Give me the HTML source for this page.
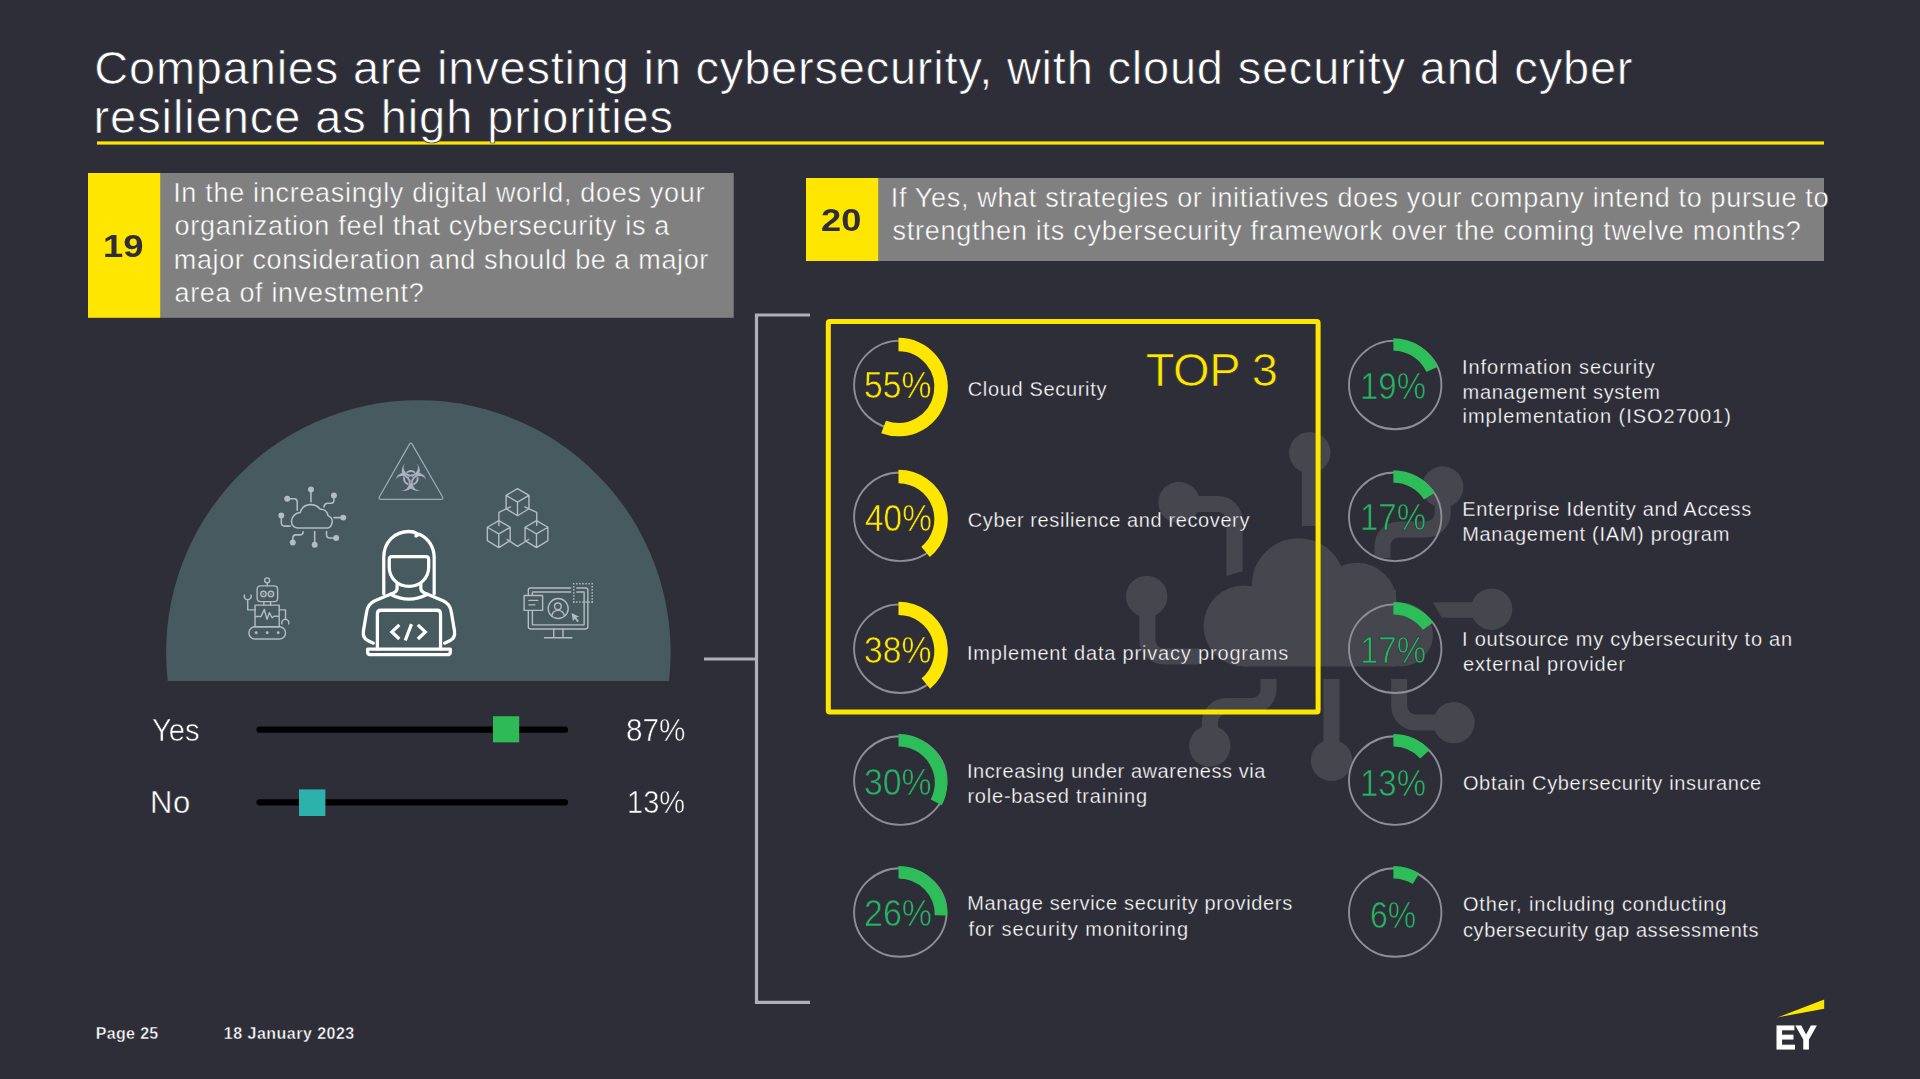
<!DOCTYPE html>
<html lang="en"><head><meta charset="utf-8">
<title>Companies are investing in cybersecurity</title>
<style>html,body{margin:0;padding:0}body{width:1920px;height:1079px;overflow:hidden;position:relative;background:#2e2e38;font-family:'Liberation Sans', sans-serif}.t{position:absolute;white-space:nowrap;line-height:1;transform-origin:0 0}svg{position:absolute;left:0;top:0}</style></head><body>
<svg width="1920" height="1079" viewBox="0 0 1920 1079">
<rect x="97" y="141.4" width="1727" height="3.2" fill="#ffe600"/>
<rect x="160" y="173" width="573.7" height="144.8" fill="#808080"/>
<rect x="88" y="173" width="72.2" height="144.8" fill="#ffe600"/>
<rect x="878" y="178" width="946" height="83" fill="#808080"/>
<rect x="806" y="178" width="72.2" height="83" fill="#ffe600"/>
<path d="M810,315 H756.5 V1002.3 H810 M756.5,659 H704" fill="none" stroke="#b0b0bc" stroke-width="3.2"/>
<path d="M259.5,729.7 H565 M259.5,802.3 H565" stroke="#000" stroke-width="6.2" stroke-linecap="round"/>
<rect x="493" y="716.2" width="26.2" height="26.2" fill="#2dba57"/>
<rect x="299" y="789.4" width="26.4" height="26.6" fill="#2db1ab"/>
<path d="M1777.1,1017.5 L1824.2,999.6 V1008.8 Z" fill="#ffe600"/>
<g fill="#46464e" stroke="none">
<circle cx="1244" cy="626" r="40.5"/><circle cx="1298.5" cy="585" r="46.7"/><circle cx="1357" cy="602.5" r="39.7"/><circle cx="1401" cy="634.5" r="32"/><rect x="1244" y="590" width="152" height="76.5"/>
<circle cx="1309.8" cy="452.6" r="20.7"/>
<circle cx="1179" cy="502.5" r="20.7"/>
<circle cx="1442.7" cy="487" r="20.7"/>
<circle cx="1146.7" cy="596.4" r="20.7"/>
<circle cx="1491.6" cy="609.2" r="20.7"/>
<circle cx="1209.8" cy="746" r="20.7"/>
<circle cx="1331.5" cy="760.3" r="20.7"/>
<circle cx="1453.9" cy="722.6" r="20.7"/>
</g>
<g fill="none" stroke="#46464e" stroke-width="16">
<path d="M1309.8,452.6 V526"/>
<path d="M1179,504 H1218 a16.5,16.5 0 0 1 16.5,16.5 V571.5"/>
<path d="M1226.5,571 V575.9 L1242.5,571.3 V571 Z" fill="#46464e" stroke="none"/>
<path d="M1442.7,487 V513 a16.5,16.5 0 0 1 -16.5,16.5 H1399 a16.5,16.5 0 0 0 -16.5,16.5 V558"/>
<path d="M1147.3,596.4 V640 a16.5,16.5 0 0 0 16.5,16.5 H1199"/>
<path d="M1432.8,602.3 H1491.6 V617.8 H1441.7 Z" fill="#46464e" stroke="none"/>
<path d="M1268.5,679 V689.5 a16.5,16.5 0 0 1 -16.5,16.5 H1226.3 a16.5,16.5 0 0 0 -16.5,16.5 V746"/>
<path d="M1331.5,679 V760"/>
<path d="M1399.2,679 V706 a16.5,16.5 0 0 0 16.5,16.5 H1453.9"/>
</g>
<rect x="828.3" y="321.5" width="489.8" height="390.6" rx="1.5" fill="none" stroke="#ffe600" stroke-width="5"/>
<path d="M167.72,681 A252.25,252.25 0 1 1 668.98,681 Z" fill="#475a60"/>
<g transform="translate(340,510) scale(0.14830)" fill="none" stroke="#ffffff" stroke-width="22" stroke-linecap="round" stroke-linejoin="round">
<path d="M295,565 V320 C295,215 370,145 465,145 C485,145 505,150 520,160 L512,175 L535,163 C595,190 635,250 635,320 V565"/>
<path d="M350,315 H580 Q598,315 598,335 V385 C598,460 540,515 465,515 C390,515 332,460 332,385 V335 Q332,315 350,315 Z"/>
<path d="M385,495 V530 C385,550 365,560 340,568 C420,610 510,610 590,568 C565,560 545,550 545,530 V495"/>
<path d="M340,568 L235,612 C200,628 185,650 180,685 L158,815 C153,850 165,870 190,882 L225,898"/>
<path d="M590,568 L695,612 C730,628 745,650 750,685 L772,815 C777,850 765,870 740,882 L705,898"/>
<path d="M252,938 V700 Q252,676 276,676 H654 Q678,676 678,700 V938"/>
<path d="M186,938 H744 V955 Q744,976 723,976 H207 Q186,976 186,955 Z"/>
<path d="M400,775 L350,822 L400,870 M482,770 L440,880 M525,775 L575,822 L525,870" stroke-linecap="butt" stroke-linejoin="miter"/>
</g>
<g transform="translate(265,475) scale(0.07413)" fill="none" stroke="#b2bcc1" stroke-width="21" stroke-linecap="round" stroke-linejoin="round">
<path d="M440,715 C385,715 355,670 358,615 C362,555 415,512 475,506 C495,438 550,400 612,400 C668,400 720,428 745,462 C800,455 842,495 850,548 C890,565 910,605 906,640 C900,690 870,715 850,715 Z"/>
<path d="M620,230 V360"/>
<path d="M930,310 V340 Q930,378 895,380 H840 Q800,385 795,430"/>
<path d="M1020,575 H930"/>
<path d="M925,850 H875 Q830,848 830,805 V762"/>
<path d="M670,905 V762"/>
<path d="M375,875 V850 Q378,810 415,808 H475 Q515,805 515,765"/>
<path d="M220,580 V645 Q222,690 265,690 H340"/>
<path d="M335,320 H395 Q435,322 435,365 V475"/>
<g fill="#b2bcc1" stroke="none">
<circle cx="620" cy="195" r="40"/>
<circle cx="930" cy="275" r="40"/>
<circle cx="1055" cy="575" r="40"/>
<circle cx="960" cy="850" r="40"/>
<circle cx="670" cy="940" r="40"/>
<circle cx="375" cy="910" r="40"/>
<circle cx="220" cy="545" r="40"/>
<circle cx="300" cy="320" r="40"/>
</g></g>
<g transform="translate(365,430) scale(0.07413)">
<path d="M600,190 Q618,165 636,190 L1045,900 Q1060,935 1025,937 H215 Q178,935 195,900 Z" fill="none" stroke="#9cabb3" stroke-width="17" stroke-linejoin="round"/>
<mask id="bio" maskUnits="userSpaceOnUse" x="300" y="380" width="640" height="560">
<rect x="300" y="380" width="640" height="560" fill="#000"/>
<circle cx="618.0" cy="548.3" r="123.4" fill="#fff"/>
<circle cx="704.3" cy="697.9" r="123.4" fill="#fff"/>
<circle cx="531.7" cy="697.9" r="123.4" fill="#fff"/>
<circle cx="618.0" cy="506.3" r="97" fill="#000"/>
<circle cx="740.7" cy="718.9" r="97" fill="#000"/>
<circle cx="495.3" cy="718.9" r="97" fill="#000"/>
<circle cx="618" cy="648" r="24" fill="#000"/>
<line x1="618" y1="648" x2="618.0" y2="718.0" stroke="#000" stroke-width="9"/>
<line x1="618" y1="648" x2="678.6" y2="613.0" stroke="#000" stroke-width="9"/>
<line x1="618" y1="648" x2="557.4" y2="613.0" stroke="#000" stroke-width="9"/>
</mask>
<rect x="300" y="380" width="640" height="560" fill="#aab0bd" mask="url(#bio)"/>
<path d="M561.4,575.5 A92,92 0 0 1 674.6,575.5" fill="none" stroke="#aab0bd" stroke-width="24"/>
<path d="M709.1,635.2 A92,92 0 0 1 652.5,733.3" fill="none" stroke="#aab0bd" stroke-width="24"/>
<path d="M583.5,733.3 A92,92 0 0 1 526.9,635.2" fill="none" stroke="#aab0bd" stroke-width="24"/>
</g>
<g transform="translate(470,475) scale(0.07413)" fill="none" stroke="#b2bcc1" stroke-width="19" stroke-linejoin="round" stroke-linecap="round">
<path d="M641,185 L795,275 L795,455 L641,550 L487,455 L487,275 Z M641,365 L487,275 M641,365 L795,275 M641,365 L641,550"/>
<path d="M388,615 L542,705 L542,885 L388,980 L234,885 L234,705 Z M388,795 L234,705 M388,795 L542,705 M388,795 L388,980"/>
<path d="M897,615 L1051,705 L1051,885 L897,980 L743,885 L743,705 Z M897,795 L743,705 M897,795 L1051,705 M897,795 L897,980"/>
<path d="M545,430 L390,505 V680 M740,430 L900,505 V680 M500,870 L642,962 L790,870"/>
</g>
<g transform="translate(230,565) scale(0.07874)" fill="none" stroke="#b2bcc1" stroke-width="18" stroke-linejoin="round" stroke-linecap="round">
<circle cx="472" cy="195" r="32"/><path d="M472,228 V265"/>
<rect x="345" y="265" width="260" height="200" rx="42"/>
<circle cx="425" cy="368" r="34"/><circle cx="520" cy="368" r="34"/>
<circle cx="425" cy="368" r="10" fill="#b2bcc1" stroke="none"/><circle cx="520" cy="368" r="10" fill="#b2bcc1" stroke="none"/>
<path d="M430,465 V510 M515,465 V510"/>
<rect x="318" y="510" width="307" height="275"/>
<path d="M330,655 H395 L435,565 L470,690 L500,605 L535,670 L560,650 H615"/>
<path d="M318,570 H225 V452 M183,380 A45,45 0 1 0 267,380"/>
<path d="M625,570 H705 V682 M660,748 A45,45 0 1 1 745,748"/>
<rect x="240" y="785" width="465" height="155" rx="77"/>
<g fill="#b2bcc1" stroke="none"><circle cx="333" cy="860" r="18"/><circle cx="472" cy="860" r="18"/><circle cx="612" cy="860" r="18"/></g>
</g>
<g transform="translate(510,570) scale(0.07413)" fill="none" stroke="#b2bcc1" stroke-width="19" stroke-linejoin="round" stroke-linecap="round">
<rect x="247" y="242" width="803" height="553" rx="28"/>
<rect x="302" y="297" width="698" height="443"/>
<path d="M590,795 V910 M715,795 V910 M465,915 H835"/>
<rect x="190" y="345" width="250" height="200" fill="#475a60"/>
<path d="M255,410 H375 M255,470 H335"/>
<circle cx="650" cy="520" r="135"/><circle cx="646" cy="490" r="45"/>
<path d="M563,622 C572,565 608,545 648,545 C690,545 722,565 736,622"/>
<path d="M830,580 L935,630 L892,642 L930,688 L908,702 L872,657 L850,692 Z" fill="#b2bcc1" stroke="none"/>
<rect x="826" y="215" width="68" height="105" fill="#475a60" stroke="none"/>
<g fill="#b2bcc1" stroke="none"><rect x="850.0" y="298.6" width="20" height="20"/><rect x="850.0" y="339.8" width="20" height="20"/><rect x="1099.0" y="175.0" width="20" height="20"/><rect x="1099.0" y="216.2" width="20" height="20"/><rect x="1099.0" y="422.0" width="20" height="20"/><rect x="1099.0" y="257.4" width="20" height="20"/><rect x="1099.0" y="422.2" width="20" height="20"/><rect x="850.0" y="175.0" width="20" height="20"/><rect x="891.5" y="422.0" width="20" height="20"/><rect x="891.5" y="175.0" width="20" height="20"/><rect x="850.0" y="216.2" width="20" height="20"/><rect x="850.0" y="422.0" width="20" height="20"/><rect x="850.0" y="257.4" width="20" height="20"/><rect x="850.0" y="422.2" width="20" height="20"/><rect x="974.5" y="175.0" width="20" height="20"/><rect x="1099.0" y="381.0" width="20" height="20"/><rect x="933.0" y="175.0" width="20" height="20"/><rect x="933.0" y="422.0" width="20" height="20"/><rect x="974.5" y="422.0" width="20" height="20"/><rect x="850.0" y="381.0" width="20" height="20"/><rect x="1016.0" y="175.0" width="20" height="20"/><rect x="1057.5" y="175.0" width="20" height="20"/><rect x="1099.0" y="298.6" width="20" height="20"/><rect x="1099.0" y="339.8" width="20" height="20"/><rect x="1016.0" y="422.0" width="20" height="20"/><rect x="1057.5" y="422.0" width="20" height="20"/></g>
</g>
<ellipse cx="900.3" cy="384.9" rx="46.2" ry="44.3" fill="none" stroke="#8e8e97" stroke-width="1.9"/>
<path d="M898.50,344.55A42.55,42.55 0 1 1 883.60,426.96" fill="none" stroke="#ffe600" stroke-width="13.4"/>
<ellipse cx="900.3" cy="516.8" rx="46.2" ry="44.3" fill="none" stroke="#8e8e97" stroke-width="1.9"/>
<path d="M898.50,476.45A42.55,42.55 0 0 1 925.57,551.83" fill="none" stroke="#ffe600" stroke-width="13.4"/>
<ellipse cx="900.3" cy="648.7" rx="46.2" ry="44.3" fill="none" stroke="#8e8e97" stroke-width="1.9"/>
<path d="M898.50,608.35A42.55,42.55 0 0 1 925.85,683.50" fill="none" stroke="#ffe600" stroke-width="13.4"/>
<ellipse cx="900.3" cy="780.6" rx="46.2" ry="44.3" fill="none" stroke="#8e8e97" stroke-width="1.9"/>
<path d="M898.50,740.25A42.55,42.55 0 0 1 936.28,802.38" fill="none" stroke="#2dbd59" stroke-width="12.5"/>
<ellipse cx="900.3" cy="912.5" rx="46.2" ry="44.3" fill="none" stroke="#8e8e97" stroke-width="1.9"/>
<path d="M898.50,872.15A42.55,42.55 0 0 1 941.04,915.44" fill="none" stroke="#2dbd59" stroke-width="12.5"/>
<ellipse cx="1395.2" cy="384.9" rx="46.2" ry="44.3" fill="none" stroke="#8e8e97" stroke-width="1.9"/>
<path d="M1393.40,344.55A42.55,42.55 0 0 1 1432.12,369.45" fill="none" stroke="#2dbd59" stroke-width="12.5"/>
<ellipse cx="1395.2" cy="516.8" rx="46.2" ry="44.3" fill="none" stroke="#8e8e97" stroke-width="1.9"/>
<path d="M1393.40,476.45A42.55,42.55 0 0 1 1429.29,496.14" fill="none" stroke="#2dbd59" stroke-width="12.5"/>
<ellipse cx="1395.2" cy="648.7" rx="46.2" ry="44.3" fill="none" stroke="#8e8e97" stroke-width="1.9"/>
<path d="M1393.40,608.35A42.55,42.55 0 0 1 1428.04,626.19" fill="none" stroke="#2dbd59" stroke-width="12.5"/>
<ellipse cx="1395.2" cy="780.6" rx="46.2" ry="44.3" fill="none" stroke="#8e8e97" stroke-width="1.9"/>
<path d="M1393.40,740.25A42.55,42.55 0 0 1 1424.92,754.22" fill="none" stroke="#2dbd59" stroke-width="12.5"/>
<ellipse cx="1395.2" cy="912.5" rx="46.2" ry="44.3" fill="none" stroke="#8e8e97" stroke-width="1.9"/>
<path d="M1393.40,872.15A42.55,42.55 0 0 1 1415.95,878.62" fill="none" stroke="#2dbd59" stroke-width="12.5"/>
</svg>
<div class="t" style="left:94.25px;top:44.00px;font-size:47px;color:#ffffff;-webkit-text-stroke:0.7px #2e2e38;letter-spacing:0.790px;">Companies are investing in cybersecurity, with cloud security and cyber</div>
<div class="t" style="left:93.54px;top:93.00px;font-size:47px;color:#ffffff;-webkit-text-stroke:0.7px #2e2e38;letter-spacing:0.920px;">resilience as high priorities</div>
<div class="t" style="left:103.44px;top:231.00px;font-size:31px;color:#2e2e38;font-weight:700;transform:scaleX(1.1739);">19</div>
<div class="t" style="left:173.17px;top:180.00px;font-size:27px;color:#ffffff;-webkit-text-stroke:0.45px #808080;letter-spacing:0.699px;">In the increasingly digital world, does your</div>
<div class="t" style="left:174.52px;top:213.00px;font-size:27px;color:#ffffff;-webkit-text-stroke:0.45px #808080;letter-spacing:0.702px;">organization feel that cybersecurity is a</div>
<div class="t" style="left:173.84px;top:247.00px;font-size:27px;color:#ffffff;-webkit-text-stroke:0.45px #808080;letter-spacing:0.603px;">major consideration and should be a major</div>
<div class="t" style="left:174.52px;top:280.00px;font-size:27px;color:#ffffff;-webkit-text-stroke:0.45px #808080;letter-spacing:0.669px;">area of investment?</div>
<div class="t" style="left:821.41px;top:205.00px;font-size:31px;color:#2e2e38;font-weight:700;transform:scaleX(1.1675);">20</div>
<div class="t" style="left:890.77px;top:185.00px;font-size:27px;color:#ffffff;-webkit-text-stroke:0.45px #808080;letter-spacing:0.677px;">If Yes, what strategies or initiatives does your company intend to pursue to</div>
<div class="t" style="left:892.39px;top:218.00px;font-size:27px;color:#ffffff;-webkit-text-stroke:0.45px #808080;letter-spacing:0.758px;">strengthen its cybersecurity framework over the coming twelve months?</div>
<div class="t" style="left:152.03px;top:715.00px;font-size:31px;color:#ffffff;-webkit-text-stroke:0.5px #2e2e38;transform:scaleX(0.9423);">Yes</div>
<div class="t" style="left:150.02px;top:787.00px;font-size:31px;color:#ffffff;-webkit-text-stroke:0.5px #2e2e38;letter-spacing:0.658px;">No</div>
<div class="t" style="left:626.11px;top:715.00px;font-size:31px;color:#ffffff;-webkit-text-stroke:0.5px #2e2e38;transform:scaleX(0.9582);">87%</div>
<div class="t" style="left:627.47px;top:787.00px;font-size:31px;color:#ffffff;-webkit-text-stroke:0.5px #2e2e38;transform:scaleX(0.9361);">13%</div>
<div class="t" style="left:1145.66px;top:346.00px;font-size:47px;color:#ffe600;-webkit-text-stroke:0.7px #2e2e38;letter-spacing:-0.450px;">TOP 3</div>
<div class="t" style="left:967.75px;top:379.00px;font-size:20px;color:#ffffff;-webkit-text-stroke:0.3px #2e2e38;letter-spacing:0.663px;">Cloud Security</div>
<div class="t" style="left:967.75px;top:510.00px;font-size:20px;color:#ffffff;-webkit-text-stroke:0.3px #2e2e38;letter-spacing:0.610px;">Cyber resilience and recovery</div>
<div class="t" style="left:966.95px;top:643.00px;font-size:20px;color:#ffffff;-webkit-text-stroke:0.3px #2e2e38;letter-spacing:0.818px;">Implement data privacy programs</div>
<div class="t" style="left:966.95px;top:761.00px;font-size:20px;color:#ffffff;-webkit-text-stroke:0.3px #2e2e38;letter-spacing:0.556px;">Increasing under awareness via</div>
<div class="t" style="left:967.45px;top:786.00px;font-size:20px;color:#ffffff;-webkit-text-stroke:0.3px #2e2e38;letter-spacing:0.775px;">role-based training</div>
<div class="t" style="left:967.15px;top:893.00px;font-size:20px;color:#ffffff;-webkit-text-stroke:0.3px #2e2e38;letter-spacing:0.675px;">Manage service security providers</div>
<div class="t" style="left:968.45px;top:919.00px;font-size:20px;color:#ffffff;-webkit-text-stroke:0.3px #2e2e38;letter-spacing:1.040px;">for security monitoring</div>
<div class="t" style="left:1462.00px;top:357.00px;font-size:20px;color:#ffffff;-webkit-text-stroke:0.3px #2e2e38;letter-spacing:0.954px;">Information security</div>
<div class="t" style="left:1462.50px;top:382.00px;font-size:20px;color:#ffffff;-webkit-text-stroke:0.3px #2e2e38;letter-spacing:0.736px;">management system</div>
<div class="t" style="left:1462.50px;top:406.00px;font-size:20px;color:#ffffff;-webkit-text-stroke:0.3px #2e2e38;letter-spacing:0.991px;">implementation (ISO27001)</div>
<div class="t" style="left:1462.20px;top:499.00px;font-size:20px;color:#ffffff;-webkit-text-stroke:0.3px #2e2e38;letter-spacing:0.692px;">Enterprise Identity and Access</div>
<div class="t" style="left:1462.20px;top:524.00px;font-size:20px;color:#ffffff;-webkit-text-stroke:0.3px #2e2e38;letter-spacing:0.694px;">Management (IAM) program</div>
<div class="t" style="left:1462.00px;top:629.00px;font-size:20px;color:#ffffff;-webkit-text-stroke:0.3px #2e2e38;letter-spacing:0.775px;">I outsource my cybersecurity to an</div>
<div class="t" style="left:1463.00px;top:654.00px;font-size:20px;color:#ffffff;-webkit-text-stroke:0.3px #2e2e38;letter-spacing:0.823px;">external provider</div>
<div class="t" style="left:1462.90px;top:773.00px;font-size:20px;color:#ffffff;-webkit-text-stroke:0.3px #2e2e38;letter-spacing:0.667px;">Obtain Cybersecurity insurance</div>
<div class="t" style="left:1462.90px;top:894.00px;font-size:20px;color:#ffffff;-webkit-text-stroke:0.3px #2e2e38;letter-spacing:0.857px;">Other, including conducting</div>
<div class="t" style="left:1463.00px;top:920.00px;font-size:20px;color:#ffffff;-webkit-text-stroke:0.3px #2e2e38;letter-spacing:0.589px;">cybersecurity gap assessments</div>
<div class="t" style="left:95.76px;top:1026.00px;font-size:16px;color:#ffffff;font-weight:700;-webkit-text-stroke:0.4px #2e2e38;letter-spacing:0.339px;">Page 25</div>
<div class="t" style="left:223.84px;top:1026.00px;font-size:16px;color:#ffffff;font-weight:700;-webkit-text-stroke:0.4px #2e2e38;letter-spacing:0.485px;">18 January 2023</div>
<div class="t" style="left:1775.22px;top:1021.00px;font-size:33.5px;color:#ffffff;font-weight:700;-webkit-text-stroke:1.1px #fff;transform:scaleX(0.9249);">EY</div>
<div class="t" style="left:863.86px;top:368.00px;font-size:36px;color:#ffe600;-webkit-text-stroke:0.55px #2e2e38;transform:scaleX(0.9383);">55%</div>
<div class="t" style="left:864.58px;top:501.00px;font-size:36px;color:#ffe600;-webkit-text-stroke:0.55px #2e2e38;transform:scaleX(0.9283);">40%</div>
<div class="t" style="left:863.86px;top:633.00px;font-size:36px;color:#ffe600;-webkit-text-stroke:0.55px #2e2e38;transform:scaleX(0.9383);">38%</div>
<div class="t" style="left:863.86px;top:765.00px;font-size:36px;color:#27b262;-webkit-text-stroke:0.55px #2e2e38;transform:scaleX(0.9383);">30%</div>
<div class="t" style="left:863.50px;top:896.00px;font-size:36px;color:#27b262;-webkit-text-stroke:0.55px #2e2e38;transform:scaleX(0.9433);">26%</div>
<div class="t" style="left:1360.40px;top:369.00px;font-size:36px;color:#27b262;-webkit-text-stroke:0.55px #2e2e38;transform:scaleX(0.9163);">19%</div>
<div class="t" style="left:1360.40px;top:500.00px;font-size:36px;color:#27b262;-webkit-text-stroke:0.55px #2e2e38;transform:scaleX(0.9163);">17%</div>
<div class="t" style="left:1360.40px;top:633.00px;font-size:36px;color:#27b262;-webkit-text-stroke:0.55px #2e2e38;transform:scaleX(0.9163);">17%</div>
<div class="t" style="left:1360.40px;top:766.00px;font-size:36px;color:#27b262;-webkit-text-stroke:0.55px #2e2e38;transform:scaleX(0.9163);">13%</div>
<div class="t" style="left:1369.70px;top:898.00px;font-size:36px;color:#27b262;-webkit-text-stroke:0.55px #2e2e38;transform:scaleX(0.8866);">6%</div>
</body></html>
